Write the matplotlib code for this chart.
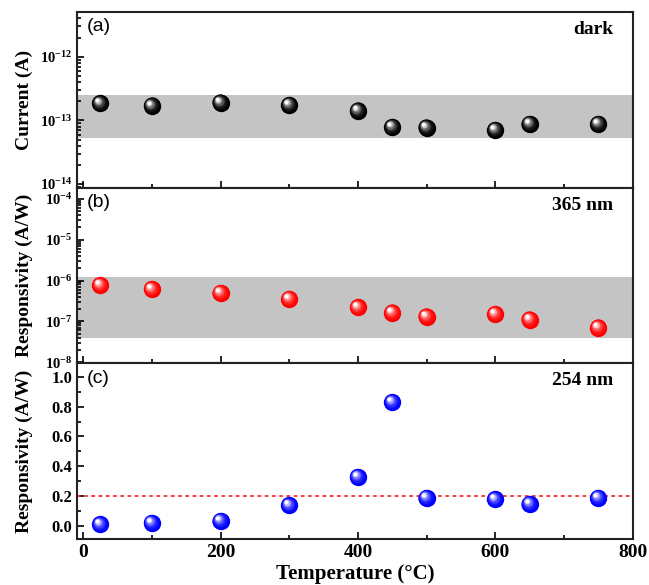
import numpy as np
import matplotlib
matplotlib.use("Agg")
from matplotlib import pyplot as plt
from matplotlib import transforms as mtrans
from matplotlib import ticker
from matplotlib.colors import to_rgb

plt.rcParams['font.family'] = 'Liberation Serif'
plt.rcParams['font.weight'] = 'bold'
plt.rcParams['mathtext.fontset'] = 'custom'
plt.rcParams['mathtext.rm'] = 'Liberation Serif:bold'
plt.rcParams['mathtext.it'] = 'Liberation Serif:bold'
plt.rcParams['mathtext.bf'] = 'Liberation Serif:bold'

# data
temp = [25, 100, 200, 300, 400, 450, 500, 600, 650, 750]
dark_current = [1.85e-13, 1.7e-13, 1.9e-13, 1.75e-13, 1.43e-13, 7.9e-14, 7.7e-14, 7.1e-14, 8.8e-14, 8.8e-14]
resp_365 = [7.7e-7, 6.2e-7, 5.0e-7, 3.55e-7, 2.2e-7, 1.64e-7, 1.3e-7, 1.5e-7, 1.1e-7, 7.0e-8]
resp_254 = [0.013, 0.023, 0.037, 0.14, 0.33, 0.83, 0.19, 0.18, 0.15, 0.19]
band_dark = (5.2e-14, 2.55e-13)
band_365 = (4.0e-8, 1.19e-6)
ref_254 = 0.2


def sphere(ax, x, y, base):
    # fake shaded ball: stack of circles getting lighter toward the upper left
    fig = ax.figure
    b = np.array(to_rgb(base))
    n = 14
    for k in range(n):
        f = k / (n - 1)
        size = 12.5 * (1 - 0.8 * f)
        col = b * (1 - f ** 2.2) + np.array([1, 1, 1]) * f ** 2.2
        tr = mtrans.offset_copy(ax.transData, fig=fig, x=-2.3 * f, y=2.3 * f, units='points')
        ax.plot(x, y, 'o', ms=size, mfc=col, mec='none', transform=tr, zorder=3 + k * 0.01, clip_on=False)


fig = plt.figure(figsize=(6.49, 5.85), dpi=100)
gs = fig.add_gridspec(3, 1, left=0.1186, right=0.975, top=0.979, bottom=0.0786, hspace=0.0)
ax1 = fig.add_subplot(gs[0])
ax2 = fig.add_subplot(gs[1], sharex=ax1)
ax3 = fig.add_subplot(gs[2], sharex=ax1)

# (a) dark current
ax1.set_yscale('log')
ax1.set_ylim(8.7e-15, 5e-12)
ax1.axhspan(band_dark[0], band_dark[1], color='#c4c4c4', lw=0, zorder=1)
sphere(ax1, temp, dark_current, '#000000')
ax1.set_ylabel('Current (A)', fontsize=14, fontweight='bold', labelpad=5)
ax1.set_yticks([1e-14, 1e-13, 1e-12])

# (b) 365 nm
ax2.set_yscale('log')
ax2.set_ylim(9.3e-9, 1.86e-4)
ax2.axhspan(band_365[0], band_365[1], color='#c4c4c4', lw=0, zorder=1)
sphere(ax2, temp, resp_365, '#ff0000')
ax2.set_ylabel('Responsivity (A/W)', fontsize=14, fontweight='bold', labelpad=5)
ax2.set_yticks([1e-8, 1e-7, 1e-6, 1e-5, 1e-4])

for ax in (ax1, ax2):
    ax.yaxis.set_major_formatter(ticker.FuncFormatter(lambda v, p: r'$10^{%d}$' % round(np.log10(v))))
    ax.yaxis.set_minor_locator(ticker.LogLocator(base=10, subs=np.arange(2, 10), numticks=20))
    ax.yaxis.set_minor_formatter(ticker.NullFormatter())
    ax.tick_params(axis='x', labelbottom=False)

# (c) 254 nm
ax3.set_ylim(-0.085, 1.088)
ax3.axhline(ref_254, color='#ff2a2a', ls=(0, (2, 2)), lw=1.3, zorder=2)
sphere(ax3, temp, resp_254, '#0000ff')
ax3.set_ylabel('Responsivity (A/W)', fontsize=14, fontweight='bold', labelpad=5)
ax3.set_yticks(np.arange(0, 1.01, 0.2))
ax3.yaxis.set_major_formatter(ticker.FormatStrFormatter('%.1f'))
ax3.yaxis.set_minor_locator(ticker.MultipleLocator(0.1))
ax3.set_xlabel('Temperature (\u00b0C)', fontsize=15, fontweight='bold', labelpad=2)

ax3.set_xlim(-9, 800)
ax3.set_xticks([0, 200, 400, 600, 800])
ax3.xaxis.set_minor_locator(ticker.MultipleLocator(100))

for ax in (ax1, ax2, ax3):
    ax.tick_params(which='both', direction='in', top=False, right=False, width=1.2)
    ax.tick_params(which='major', length=5)
    ax.tick_params(which='minor', length=3)
    for s in ax.spines.values():
        s.set_linewidth(1.5)
        s.set_color('#222222')
ax1.tick_params(axis='y', which='major', labelsize=10.5)
ax2.tick_params(axis='y', which='major', labelsize=10.5)
ax3.tick_params(axis='y', labelsize=12)
ax3.tick_params(axis='x', labelsize=14)

for ax, lab, txt in ((ax1, '(a)', 'dark'), (ax2, '(b)', '365 nm'), (ax3, '(c)', '254 nm')):
    ax.text(0.018, 0.965, lab, transform=ax.transAxes, ha='left', va='top',
            fontsize=14, fontweight='normal', family='Liberation Sans')
    ax.text(0.965, 0.95, txt, transform=ax.transAxes, ha='right', va='top',
            fontsize=14, fontweight='bold')

fig.align_ylabels([ax1, ax2, ax3])
fig.savefig('out.png', dpi=100)
